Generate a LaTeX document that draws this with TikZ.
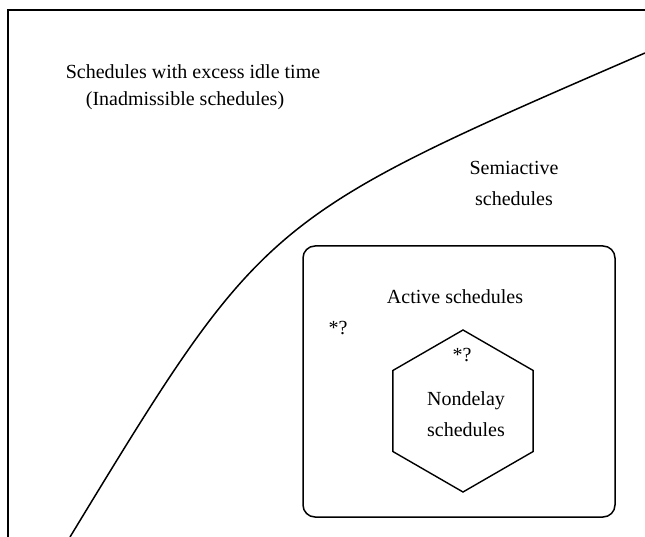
\documentclass[tikz,border=0pt]{standalone}
\usepackage{fontspec}
\setmainfont{Liberation Serif}
\usetikzlibrary{shapes.geometric}

\begin{document}
\begin{tikzpicture}[x=1pt,y=-1pt,
  lbl/.style={inner sep=0pt, font=\fontsize{20}{31}\selectfont}]

\useasboundingbox (0,0) rectangle (645,537);

% open frame, top and left side
\coordinate (fbot) at (8,537);
\coordinate (fcorner) at (8,10);
\coordinate (fright) at (645,10);
\draw[line width=1.8] (fbot) -- (fcorner) -- (fright);

% border of the semiactive region
\coordinate (cstart) at (70,537);
\coordinate (cbend) at (264,218);
\coordinate (cend) at (645,53);
\draw[line width=1.5] (cstart) .. controls (cbend) .. (cend);

\draw[line width=1.5, rounded corners=12] (303,246) rectangle (615,517);

\node[draw, line width=1.4, regular polygon, regular polygon sides=6,
  shape border rotate=30, minimum size=162, inner sep=0pt] (hex) at (463,411) {};

%%%%%%%%%%%%%%%

\node[lbl] (excess) at (193,72) {Schedules with excess idle time};
\node[lbl] (inadm) at (185,101) {(Inadmissible schedules)};
\node[lbl, align=center] (semi) at (514,183) {Semiactive\\schedules};
\node[lbl] (active) at (455,297) {Active schedules};
\node[lbl] (qout) at (338,328) {*?};
\node[lbl] (qin) at (462,355) {*?};
\node[lbl, align=center] (nondelay) at (466,414) {Nondelay\\schedules};

\end{tikzpicture}
\end{document}
